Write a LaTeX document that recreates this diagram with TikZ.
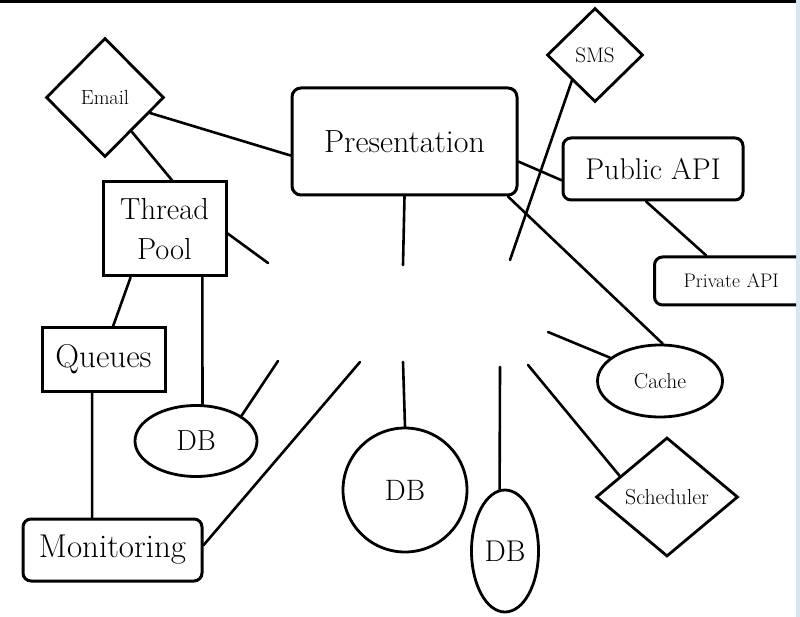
\documentclass[tikz,border=0pt]{standalone}
\usepackage{fontspec}
\usetikzlibrary{shapes.geometric}
\definecolor{stripblue}{RGB}{216,230,241}
\newcommand{\myfs}[2]{\fontsize{#1}{#2}\selectfont}
\tikzset{
  box/.style={draw, line width=3pt, inner sep=0pt, align=center},
  rbox/.style={box, rounded corners=9pt},
  oval/.style={draw, ellipse, line width=2.8pt, inner sep=0pt},
  dia/.style={draw, diamond, line width=2.8pt, inner sep=0pt},
  wire/.style={line width=2.6pt, line cap=round},
}
\begin{document}
\begin{tikzpicture}[x=1pt,y=-1pt]
\useasboundingbox (0,0) rectangle (800,617);
\fill[white] (0,0) rectangle (800,617);
\fill[black] (0,0) rectangle (796,3);
\fill[stripblue] (796,0) rectangle (800,617);

% nodes
\node[rbox, minimum width=225pt, minimum height=107pt, font=\myfs{32}{36}] (pres) at (404.5,141.5) {Presentation};
\node[rbox, rounded corners=8pt, minimum width=180pt, minimum height=62pt, font=\myfs{30}{34}] (pub) at (653,169) {Public API};
\begin{scope}
  \clip (0,0) rectangle (796,617);
  \node[rbox, rounded corners=8pt, anchor=west, inner xsep=29pt, text width=124pt, align=left, minimum height=48pt, font=\myfs{19.6}{23}] (priv) at (653,281) {Private API};
\end{scope}
\node[box, minimum width=123pt, minimum height=94pt, font=\myfs{30.5}{40}] (tp) at (164.5,229) {Thread\\Pool};
\node[box, minimum width=123pt, minimum height=63pt, font=\myfs{33}{36}] (que) at (103.5,359.5) {Queues};
\node[rbox, rounded corners=8pt, minimum width=179pt, minimum height=62pt, font=\myfs{33}{36}] (mon) at (112.5,550) {Monitoring};
\node[dia, minimum width=118pt, minimum height=119pt, font=\myfs{20.4}{24}] (email) at (105,97.5) {Email};
\node[dia, minimum width=96pt, minimum height=94pt, font=\myfs{21}{24}] (sms) at (595,55) {SMS};
\node[dia, minimum width=142pt, minimum height=119pt, font=\myfs{21.8}{25}] (sch) at (667,497) {Scheduler};
\node[oval, minimum width=122pt, minimum height=71pt, font=\myfs{29}{32}] (dbs) at (196,441) {DB};
\node[oval, minimum width=124pt, minimum height=124pt, font=\myfs{29.5}{33}] (dbc) at (405,490) {DB};
\node[oval, minimum width=67pt, minimum height=122pt, font=\myfs{30}{33}] (dbt) at (505,551) {DB};
\node[oval, minimum width=125pt, minimum height=72pt, font=\myfs{21.5}{25}] (cache) at (660,381) {Cache};

% free ends around the empty hub
\coordinate (fsms) at (510,260);
\coordinate (ftp) at (268,263);
\coordinate (fdbs) at (278,361);
\coordinate (fmon) at (360,362);
\coordinate (fpres) at (403,265);
\coordinate (fdbc) at (403,362);
\coordinate (fdbt) at (500,367);
\coordinate (fsch) at (528,365);
\coordinate (fcache) at (548,332);

% connectors
\draw[wire] (email.341) -- (pres.187);
\draw[wire] (email.308) -- (tp.81);
\draw[wire] (pres.350) -- (pub.187);
\draw[wire] (sms.228) -- (fsms);
\draw[wire] (pres.332.4) -- (cache.86);
\draw[wire] (pub.258.7) -- (priv.147.7);
\draw[wire] (tp.356) -- (ftp);
\draw[wire] (tp.235.3) -- (que.74.9);
\draw[wire] (tp.308.6) -- (dbs.80);
\draw[wire] (dbs.29.5) -- (fdbs);
\draw[wire] (mon.3.2) -- (fmon);
\draw[wire] (que.251.6) -- (mon.122.2);
\draw[wire] (pres.south) -- (fpres);
\draw[wire] (fdbc) -- (dbc.north);
\draw[wire] (fdbt) -- (dbt.95);
\draw[wire] (fsch) -- (sch.156.25);
\draw[wire] (fcache) -- (cache.155.2);
\end{tikzpicture}
\end{document}
